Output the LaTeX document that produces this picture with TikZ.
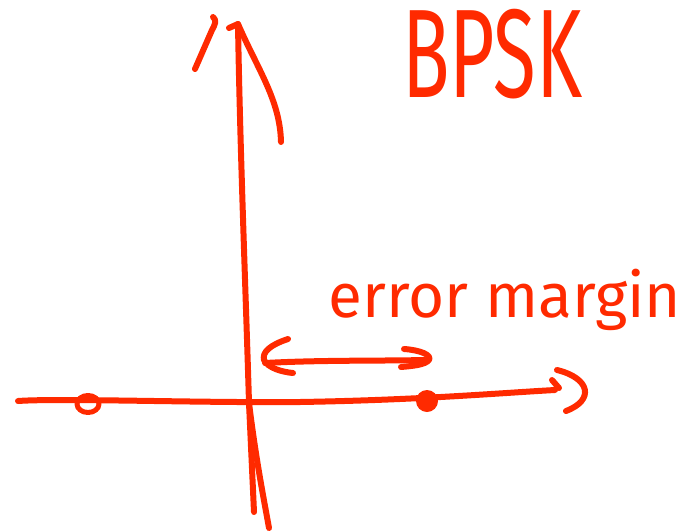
\documentclass[tikz,border=0pt]{standalone}
\usepackage{fontspec}
\setmainfont{Fira Sans}
\definecolor{pen}{HTML}{FF2A00}
\begin{document}
\begin{tikzpicture}[x=1pt,y=-1pt,
  ink/.style={draw=pen,line width=6pt,line cap=round,line join=round},
  lbl/.style={text=pen,inner sep=0pt}]
\useasboundingbox (0,0) rectangle (690,530);
% vertical axis
\draw[ink] (238,24) .. controls (240,150) and (246,300) .. (249,403) -- (254,512);
\draw[ink] (249,403) .. controls (256,460) and (264,500) .. (269,528);
% vertical arrowhead
\draw[ink] (229,28) -- (238,24) .. controls (258,70) and (280,100) .. (281,142);
\draw[ink] (213,17) .. controls (217,20) and (215,25) .. (212,30) -- (195,69);
% horizontal axis
\draw[ink] (18,401) .. controls (60,398) and (200,403) .. (300,402) .. controls (420,400) and (500,393) .. (555,390);
% horizontal arrowhead
\draw[ink] (557,370) .. controls (590,378) and (595,400) .. (566,411);
\draw[ink] (552,380) -- (559,388);
% constellation points
\draw[ink,line width=5pt] (88,404) ellipse (11pt and 8.5pt);
\fill[pen] (427,401) circle (11pt);
% error margin arrow
\draw[ink] (288,339) .. controls (270,345) and (262,352) .. (264,360) .. controls (268,368) and (282,372) .. (293,373);
\draw[ink] (265,363) .. controls (320,360) and (380,361) .. (425,360);
\draw[ink] (404,349) .. controls (420,350) and (432,355) .. (429,360) .. controls (425,365) and (412,366) .. (401,367);
% labels
\node[lbl] (bpsk) at (492,54) {\scalebox{0.62}[1]{\fontsize{126}{126}\selectfont BPSK}};
\node[lbl] (err) at (505,300) {\fontsize{62}{62}\selectfont error margin};
\end{tikzpicture}
\end{document}
